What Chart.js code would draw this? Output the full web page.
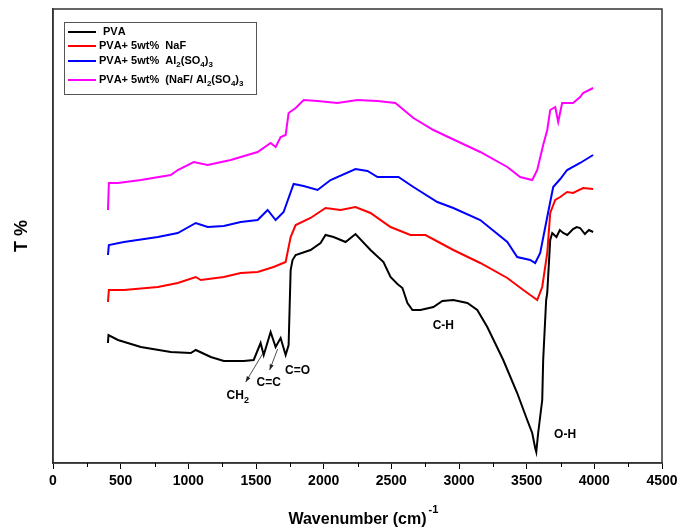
<!DOCTYPE html>
<html>
<head>
<meta charset="utf-8">
<script src="https://cdn.jsdelivr.net/npm/chart.js@4.4.0/dist/chart.umd.min.js"></script>
<style>
	html, body { margin: 0; padding: 0; background: #fff; }
	#wrap { width: 678px; height: 529px; }
</style>
</head>
<body>
<div id="wrap"><canvas id="chart" width="678" height="529"></canvas></div>
<script>
const FONT = "'Liberation Sans', Arial, sans-serif";

const seriesNames = ["PVA", "PVA+ 5wt%  NaF", "PVA+ 5wt%  Al₂(SO₄)₃", "PVA+ 5wt%  (NaF/ Al₂(SO₄)₃"];
const seriesColors = ["#000000", "#ff0000", "#0000ff", "#ff00ff"];

// PVA
const pvaWave = [406, 410, 480, 649, 870, 1018, 1055, 1166, 1262, 1409, 1483, 1534, 1557, 1608, 1645, 1682, 1719, 1741, 1756, 1770, 1793, 1903, 1977, 2014, 2073, 2162, 2235, 2346, 2442, 2494, 2545, 2582, 2619, 2656, 2715, 2811, 2877, 2958, 3062, 3135, 3209, 3327, 3430, 3504, 3541, 3563, 3571, 3585, 3615, 3622, 3644, 3652, 3674, 3689, 3720, 3745, 3770, 3800, 3843, 3870, 3895, 3930, 3960, 3991];
const pvaT = [120, 128, 123, 116, 111, 110, 113, 106, 102, 102, 103, 120, 108, 131, 116, 125, 108, 118, 193, 203, 208, 213, 220, 228, 226, 221, 229, 213, 201, 186, 179, 175, 160, 153, 153, 156, 162, 163, 160, 153, 136, 103, 70, 43, 30, 15, 11, 30, 63, 103, 163, 170, 223, 230, 226, 233, 230, 228, 234, 236, 235, 229, 233, 231];

// PVA + 5wt% NaF
const nafWave = [406, 413, 524, 775, 922, 1055, 1092, 1262, 1387, 1512, 1630, 1719, 1756, 1793, 1903, 2014, 2125, 2235, 2346, 2494, 2641, 2752, 2862, 2958, 3157, 3357, 3475, 3578, 3615, 3652, 3674, 3711, 3748, 3799, 3843, 3917, 3991];
const nafT = [161, 173, 173, 176, 180, 186, 183, 186, 190, 191, 196, 201, 226, 238, 245, 255, 253, 256, 250, 236, 228, 228, 220, 213, 200, 185, 173, 163, 176, 210, 250, 263, 266, 271, 270, 275, 274];

// PVA + 5wt% Al2(SO4)3
const alWave = [406, 413, 524, 775, 922, 1055, 1143, 1262, 1387, 1512, 1586, 1645, 1704, 1778, 1852, 1955, 2051, 2235, 2324, 2398, 2553, 2663, 2840, 2958, 3157, 3357, 3430, 3526, 3563, 3600, 3652, 3696, 3748, 3799, 3895, 3991];
const alT = [208, 218, 221, 226, 230, 240, 236, 237, 241, 243, 253, 243, 251, 279, 277, 273, 283, 294, 292, 286, 286, 276, 261, 255, 243, 221, 206, 203, 200, 210, 246, 276, 284, 293, 300, 308];

// PVA + 5wt% (NaF/Al2(SO4)3)
const mixWave = [406, 413, 480, 649, 870, 922, 1040, 1143, 1313, 1512, 1608, 1645, 1682, 1719, 1741, 1793, 1852, 1955, 2102, 2250, 2398, 2530, 2619, 2663, 2811, 2936, 3157, 3357, 3452, 3541, 3578, 3622, 3652, 3674, 3711, 3733, 3762, 3843, 3895, 3917, 3991];
const mixT = [253, 280, 280, 283, 288, 293, 301, 298, 303, 311, 320, 316, 326, 328, 350, 355, 363, 362, 360, 363, 362, 360, 350, 345, 333, 325, 311, 296, 286, 283, 293, 318, 333, 353, 356, 341, 360, 360, 366, 370, 375];

const xTicks = [0, 500, 1000, 1500, 2000, 2500, 3000, 3500, 4000, 4500];

// band labels and arrows on the PVA curve
const bandLabels = ["C-H", "O-H", "C=O", "C=C", "CH₂"];
const bandWave = [2884, 3784, 1807, 1594, 1365];
const bandT = [137, 28, 92, 80, 67];
const arrowFromWave = [1557, 1660];
const arrowFromT = [111, 114];
const arrowToWave = [1424, 1601];
const arrowToT = [81, 93];

const toPoints = (xs, ys) => xs.map((x, i) => ({ x: x, y: ys[i] }));

const subDigits = "₀₁₂₃₄₅₆₇₈₉";

// draws a string, rendering unicode subscript digits as small lowered digits
const drawRich = (ctx, text, x, y, size, align) => {
	const big = `bold ${size}px ${FONT}`;
	const small = `bold ${Math.round(size * 0.72)}px ${FONT}`;
	const parts = [];
	for (const ch of text) {
		const idx = subDigits.indexOf(ch);
		if (idx >= 0) parts.push({ t: String(idx), sub: true });
		else parts.push({ t: ch, sub: false });
	}
	let total = 0;
	parts.forEach(p => {
		ctx.font = p.sub ? small : big;
		p.w = ctx.measureText(p.t).width;
		total += p.w;
	});
	let cx = align === "center" ? x - total / 2 : x;
	ctx.textAlign = "left";
	ctx.textBaseline = "middle";
	parts.forEach(p => {
		ctx.font = p.sub ? small : big;
		ctx.fillText(p.t, cx, p.sub ? y + size * 0.38 : y);
		cx += p.w;
	});
};

const decorations = {
	id: "decorations",
	afterDraw(chart) {
		const { ctx, chartArea: a, scales } = chart;
		const xs = scales.x;
		const ys = scales.y;
		ctx.save();

		// frame
		ctx.strokeStyle = "#333";
		ctx.lineWidth = 1.5;
		ctx.strokeRect(a.left, a.top, a.right - a.left, a.bottom - a.top);

		// minor ticks
		ctx.strokeStyle = "#000";
		ctx.lineWidth = 1;
		for (let v = 250; v < 4500; v += 500) {
			const px = Math.round(xs.getPixelForValue(v)) + 0.5;
			ctx.beginPath();
			ctx.moveTo(px, a.bottom);
			ctx.lineTo(px, a.bottom + 4);
			ctx.stroke();
		}

		// superscript of the axis title
		ctx.fillStyle = "#000";
		ctx.font = `bold 16px ${FONT}`;
		const tw = ctx.measureText("Wavenumber (cm)").width;
		const mid = (a.left + a.right) / 2;
		ctx.font = `bold 11px ${FONT}`;
		ctx.textAlign = "left";
		ctx.textBaseline = "middle";
		ctx.fillText("-1", mid + tw / 2 + 2, 510);

		// band labels
		bandLabels.forEach((label, i) => {
			drawRich(ctx, label, xs.getPixelForValue(bandWave[i]), ys.getPixelForValue(bandT[i]), 12, "center");
		});

		// arrows
		ctx.strokeStyle = "#222";
		ctx.fillStyle = "#222";
		ctx.lineWidth = 0.8;
		arrowFromWave.forEach((w, i) => {
			const x1 = xs.getPixelForValue(w);
			const y1 = ys.getPixelForValue(arrowFromT[i]);
			const x2 = xs.getPixelForValue(arrowToWave[i]);
			const y2 = ys.getPixelForValue(arrowToT[i]);
			ctx.beginPath();
			ctx.moveTo(x1, y1);
			ctx.lineTo(x2, y2);
			ctx.stroke();
			const ang = Math.atan2(y2 - y1, x2 - x1);
			ctx.beginPath();
			ctx.moveTo(x2, y2);
			ctx.lineTo(x2 - 6 * Math.cos(ang - 0.35), y2 - 6 * Math.sin(ang - 0.35));
			ctx.lineTo(x2 - 6 * Math.cos(ang + 0.35), y2 - 6 * Math.sin(ang + 0.35));
			ctx.closePath();
			ctx.fill();
		});

		// legend box
		const lx = a.left + 11;
		const ly = a.top + 13;
		ctx.strokeStyle = "#555";
		ctx.lineWidth = 1;
		ctx.strokeRect(lx + 0.5, ly + 0.5, 192, 72);
		const rowY = [10, 24, 39, 58];
		chart.data.datasets.forEach((ds, i) => {
			const y = ly + rowY[i];
			ctx.strokeStyle = ds.borderColor;
			ctx.lineWidth = 2;
			ctx.beginPath();
			ctx.moveTo(lx + 4, y);
			ctx.lineTo(lx + 32, y);
			ctx.stroke();
			ctx.fillStyle = "#000";
			drawRich(ctx, ds.label, lx + (i === 0 ? 39 : 35), y, 11, "left");
		});

		ctx.restore();
	},
};

const ctx = document.querySelector("#chart").getContext("2d");
const chart = new Chart(ctx, {
	type: "line",
	data: {
		datasets: [
			{ label: seriesNames[0], data: toPoints(pvaWave, pvaT), borderColor: seriesColors[0] },
			{ label: seriesNames[1], data: toPoints(nafWave, nafT), borderColor: seriesColors[1] },
			{ label: seriesNames[2], data: toPoints(alWave, alT), borderColor: seriesColors[2] },
			{ label: seriesNames[3], data: toPoints(mixWave, mixT), borderColor: seriesColors[3] },
		],
	},
	options: {
		responsive: false,
		animation: false,
		layout: { padding: { top: 9, right: 0, left: 0, bottom: 0 } },
		elements: {
			point: { radius: 0 },
			line: { borderWidth: 2, tension: 0 },
		},
		plugins: {
			legend: { display: false },
			tooltip: { enabled: false },
		},
		scales: {
			x: {
				type: "linear",
				min: 0,
				max: 4500,
				afterBuildTicks: scale => {
					scale.ticks = xTicks.map(v => ({ value: v }));
				},
				afterFit: scale => {
					scale.height = 66;
					scale.paddingRight = 16;
				},
				grid: { drawOnChartArea: false, tickLength: 6, color: "#000", lineWidth: 1 },
				border: { display: true, color: "#333", width: 1.5 },
				ticks: {
					color: "#000",
					padding: 4,
					maxRotation: 0,
					callback: v => String(v),
					font: { family: FONT, size: 14, weight: "bold" },
				},
				title: {
					display: true,
					text: "Wavenumber (cm)",
					color: "#000",
					padding: { top: 0, bottom: 0 },
					font: { family: FONT, size: 16, weight: "bold" },
				},
			},
			y: {
				min: 0,
				max: 454,
				afterFit: scale => {
					scale.width = 53;
				},
				grid: { display: false },
				border: { display: true, color: "#333", width: 1.5 },
				ticks: { display: false },
				title: {
					display: true,
					text: "T %",
					color: "#000",
					padding: { top: 11, bottom: 0 },
					font: { family: FONT, size: 18, weight: "bold" },
				},
			},
		},
	},
	plugins: [decorations],
});
</script>
</body>
</html>
